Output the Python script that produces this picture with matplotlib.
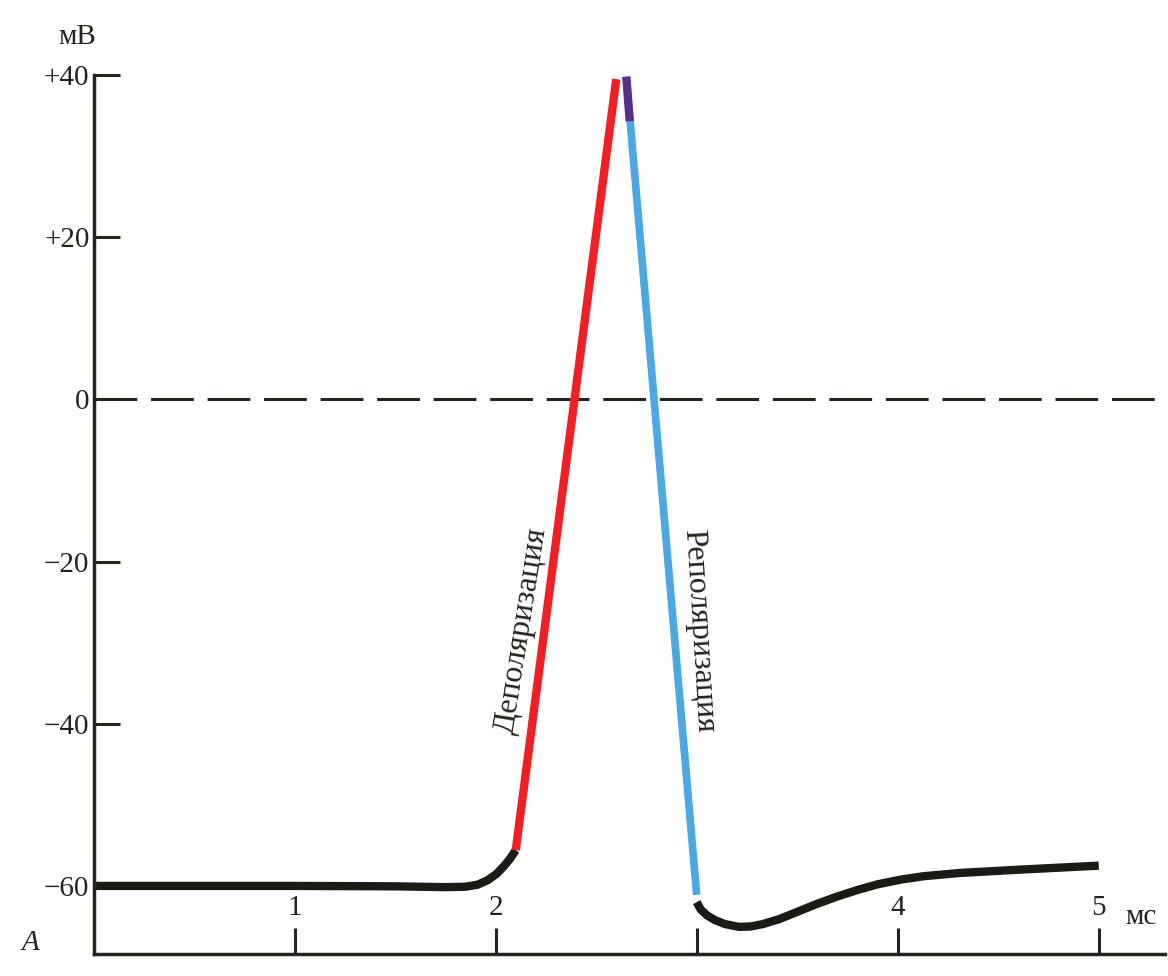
import matplotlib.pyplot as plt

plt.rcParams['font.family'] = ['Liberation Serif', 'DejaVu Serif']

# resting potential and foot of the spike (black)
rest_t = [0.0, 1.0, 1.5, 1.75, 1.85, 1.91, 1.96, 2.005, 2.04, 2.07, 2.10]
rest_v = [-60.0, -60.0, -60.05, -60.15, -60.1, -59.85, -59.3, -58.5, -57.6, -56.7, -55.6]

# depolarization (red) and repolarization (blue)
depol_t = [2.10, 2.60]
depol_v = [-55.6, 39.5]
repol_t = [2.65, 3.00]
repol_v = [39.8, -61.1]
peak_t = [2.65, 2.667]
peak_v = [39.8, 34.3]

# after-hyperpolarization (black)
after_t = [3.00, 3.02, 3.05, 3.09, 3.14, 3.21, 3.27, 3.33, 3.41, 3.50, 3.60, 3.70,
           3.80, 3.90, 4.02, 4.13, 4.31, 4.60, 5.00]
after_v = [-62.0, -62.9, -63.6, -64.2, -64.7, -65.05, -65.0, -64.7, -64.1, -63.2, -62.2, -61.3,
           -60.5, -59.8, -59.2, -58.8, -58.4, -58.0, -57.5]

y_ticks = [-60, -40, -20, 0, 20, 40]
y_labels = ['\u221260', '\u221240', '\u221220', '0', '+20', '+40']
x_ticks = [1, 2, 3, 4, 5]
x_labels = ['1', '2', '', '4', '5']

ink = '#24241c'
fig = plt.figure(figsize=(11.68, 9.76), dpi=100)
ax = fig.add_axes([0.0801, 0.0225, 0.9174, 0.9006])
ax.set_xlim(0, 5.33)
ax.set_ylim(-68.4, 40)

ax.axhline(0, color=ink, lw=2.2, dashes=(14, 4.5))

ax.plot(rest_t, rest_v, color='#1b1b16', lw=6, solid_capstyle='butt', solid_joinstyle='round')
ax.plot(depol_t, depol_v, color='#f31d22', lw=6, solid_capstyle='butt', clip_on=False)
ax.plot(repol_t, repol_v, color='#4aa8e6', lw=5.5, solid_capstyle='butt', clip_on=False)
ax.plot(peak_t, peak_v, color='#5a2c8c', lw=6, solid_capstyle='butt', clip_on=False)
ax.plot(after_t, after_v, color='#1b1b16', lw=6, solid_capstyle='butt', solid_joinstyle='round')

for s in ['top', 'right']:
    ax.spines[s].set_visible(False)
for s in ['left', 'bottom']:
    ax.spines[s].set_linewidth(2.5)
    ax.spines[s].set_color(ink)

ax.set_yticks(y_ticks)
ax.set_yticklabels(y_labels)
ax.set_xticks(x_ticks)
ax.set_xticklabels([])
ax.tick_params(direction='in', length=19, width=2.2, color=ink,
               labelsize=21, labelcolor=ink, pad=3)

for t, lab in zip(x_ticks, x_labels):
    ax.text(t, -64.3, lab, ha='center', va='bottom', fontsize=21, color=ink)

ax.text(-0.08, 44.7, 'мВ', ha='center', va='center', fontsize=21, color=ink, clip_on=False)
ax.text(5.21, -63.8, 'мс', ha='center', va='center', fontsize=21, color=ink)
ax.text(-0.316, -67.1, 'A', ha='center', va='center', fontsize=21, style='italic', color=ink)

ax.text(2.13, -28.5, 'Деполяризация', rotation=81, rotation_mode='anchor',
        ha='center', va='center', fontsize=23, color=ink)
ax.text(3.01, -28.5, 'Реполяризация', rotation=-86.5, rotation_mode='anchor',
        ha='center', va='center', fontsize=23, color=ink)

fig.savefig('out.png', dpi=100)
